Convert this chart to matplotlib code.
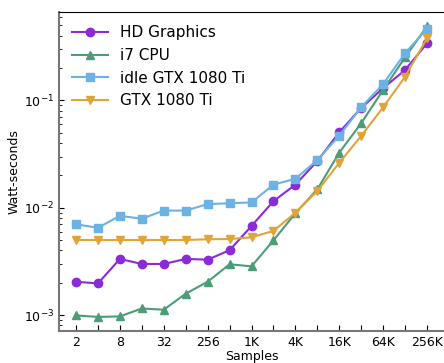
import matplotlib
matplotlib.use("Agg")
import matplotlib.pyplot as plt

# sample sizes (tick labels shown on every other point)
tick_labels = ["2", "", "8", "", "32", "", "256", "", "1K", "", "4K", "", "16K", "", "64K", "", "256K"]

hd_graphics = [0.00204, 0.00197, 0.00333, 0.00299, 0.00299, 0.00333, 0.00328, 0.00401,
               0.00675, 0.0115, 0.0164, 0.0272, 0.0504, 0.085, 0.13, 0.192, 0.34]
i7_cpu = [0.00099, 0.00096, 0.00097, 0.00115, 0.00112, 0.00158, 0.00204, 0.00297,
          0.00284, 0.00496, 0.00887, 0.0148, 0.0326, 0.0612, 0.125, 0.252, 0.49]
idle_gtx = [0.0070, 0.0065, 0.0084, 0.0079, 0.0094, 0.0094, 0.0108, 0.0110,
            0.0112, 0.0164, 0.0186, 0.0278, 0.0469, 0.0862, 0.142, 0.275, 0.466]
gtx = [0.0050, 0.0050, 0.0050, 0.0050, 0.0050, 0.0050, 0.00508, 0.0051,
       0.0053, 0.00607, 0.00898, 0.0143, 0.0262, 0.0466, 0.0862, 0.166, 0.379]

series = [
    ("HD Graphics", hd_graphics, "#8a2bd6", "o"),
    ("i7 CPU", i7_cpu, "#4c9c78", "^"),
    ("idle GTX 1080 Ti", idle_gtx, "#6cb2e4", "s"),
    ("GTX 1080 Ti", gtx, "#e0a43a", "v"),
]

x = list(range(len(tick_labels)))

fig = plt.figure(figsize=(4.44, 3.63), dpi=100)
ax = fig.add_axes([58.7 / 444, 1 - 330.7 / 363, (444.3 - 58.7) / 444, (330.7 - 11.7) / 363])

for name, vals, color, marker in series:
    ax.plot(x, vals, marker=marker, color=color, lw=1.5, markersize=6, label=name)

ax.set_yscale("log")
ax.set_ylim(7.14e-4, 0.671)
ax.set_xlim(-0.79, 16.79)
ax.set_xticks(x)
ax.set_xticklabels(tick_labels)
ax.tick_params(axis="both", which="both", direction="in", labelsize=9)
ax.tick_params(axis="x", length=4)

ax.set_xlabel("Samples", fontsize=9, labelpad=1)
ax.set_ylabel("Watt-seconds", fontsize=9, labelpad=2)

for side in ["left", "bottom"]:
    ax.spines[side].set_color("#777777")
    ax.spines[side].set_linewidth(1.5)
ax.spines["right"].set_visible(False)

ax.legend(loc="upper left", frameon=False, fontsize=11, handlelength=2.3)

fig.savefig("out.png", dpi=100)
